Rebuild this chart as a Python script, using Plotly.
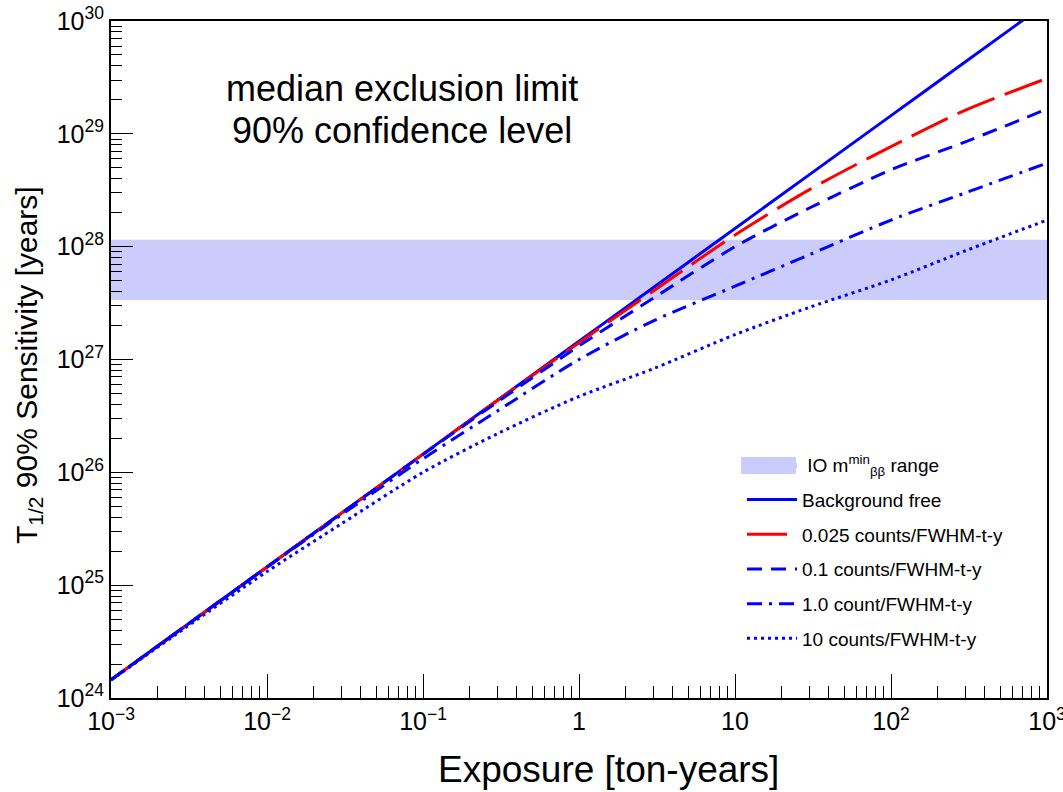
import plotly.graph_objects as go

# ---------------- data ----------------
exposure = [1e-3, 3e-3, 1e-2, 3e-2, 0.1, 0.3, 1, 3, 10, 30, 100, 300, 1000]

bkg_free = [1.45e24, 4.35e24, 1.45e25, 4.35e25, 1.45e26, 4.35e26, 1.45e27,
            4.35e27, 1.45e28, 4.35e28, 1.45e29, 4.35e29, 1.45e30]
bkg_0025 = [1.45e24, 4.35e24, 1.45e25, 4.35e25, 1.45e26, 4.33e26, 1.41e27,
            4.05e27, 1.27e28, 3.2e28, 7.7e28, 1.62e29, 3.1e29]
bkg_01 = [1.45e24, 4.35e24, 1.45e25, 4.34e25, 1.44e26, 4.2e26, 1.32e27,
          3.5e27, 1.0e28, 2.2e28, 4.8e28, 8.5e28, 1.66e29]
bkg_1 = [1.45e24, 4.34e24, 1.44e25, 4.2e25, 1.32e26, 3.5e26, 1.0e27,
         2.2e27, 4.46e27, 8.5e27, 1.72e28, 3.0e28, 5.5e28]
bkg_10 = [1.44e24, 4.2e24, 1.32e25, 3.5e25, 1.0e26, 2.2e26, 4.7e26,
          8.3e26, 1.66e27, 2.9e27, 5.07e27, 9.2e27, 1.72e28]

band_x = [1e-3, 1e3, 1e3, 1e-3]
band_lo = 3.37e27
band_hi = 1.15e28

x_tickvals = [1e-3, 1e-2, 1e-1, 1.0, 10.0, 100.0, 1000.0]
x_ticktext = ["10<sup>\u22123</sup>", "10<sup>\u22122</sup>", "10<sup>\u22121</sup>",
              "1", "10", "10<sup>2</sup>", "10<sup>3</sup>"]
y_tickvals = [1e24, 1e25, 1e26, 1e27, 1e28, 1e29, 1e30]
y_ticktext = ["10<sup>24</sup>", "10<sup>25</sup>", "10<sup>26</sup>", "10<sup>27</sup>",
              "10<sup>28</sup>", "10<sup>29</sup>", "10<sup>30</sup>"]

names = ["Background free", "0.025 counts/FWHM-t-y", "0.1 counts/FWHM-t-y",
         "1.0 count/FWHM-t-y", "10 counts/FWHM-t-y"]
band_name = " IO m<sup>min</sup><sub>\u03b2\u03b2</sub> range"

# ---------------- figure ----------------
FONT = "Liberation Sans, Arial, Helvetica, sans-serif"
BLUE = "#0000ff"
RED = "#ff0000"
BAND = "rgb(204,204,252)"

fig = go.Figure()

fig.add_trace(go.Scatter(
    x=band_x, y=[band_lo, band_lo, band_hi, band_hi],
    fill="toself", fillcolor=BAND, mode="lines",
    line=dict(width=0, color=BAND), name=band_name,
    legendgroup="g0", hoverinfo="skip"))

series = [
    (bkg_free, BLUE, "solid", names[0]),
    (bkg_0025, RED, "40px,11px", names[1]),
    (bkg_01, BLUE, "15px,9px", names[2]),
    (bkg_1, BLUE, "15px,7px,3px,7px", names[3]),
    (bkg_10, BLUE, "3px,4px", names[4]),
]
for i, (vals, col, dash, nm) in enumerate(series):
    fig.add_trace(go.Scatter(
        x=exposure, y=vals, mode="lines", name=nm, legendgroup=f"g{i+1}",
        line=dict(color=col, width=3, dash=dash, shape="spline", smoothing=0.8)))

minor_x = [float(m) * 10.0 ** e for e in range(-3, 3) for m in range(2, 10)]
minor_y = [float(m) * 10.0 ** e for e in range(24, 30) for m in range(2, 10)]

L, R, T, B = 111, 16, 21, 94
W, H = 1063, 792
PW, PH = W - L - R, H - T - B


def px(xp):
    return (xp - L) / PW


def py(yp):
    return (H - B - yp) / PH


fig.update_layout(
    width=W, height=H,
    margin=dict(l=L, r=R, t=T, b=B, autoexpand=False),
    paper_bgcolor="white", plot_bgcolor="white",
    font=dict(family=FONT, color="black"),
    showlegend=True,
    legend=dict(x=px(742), y=py(446), xanchor="left", yanchor="top",
                bgcolor="rgba(0,0,0,0)", font=dict(size=19, color="black"),
                itemwidth=50, tracegroupgap=7, traceorder="grouped"),
    xaxis=dict(type="log", range=[-3.000001, 3.000001], showgrid=False, zeroline=False,
               automargin=False, ticklabeloverflow="allow",
               showline=True, linecolor="black", linewidth=2, mirror=True,
               ticks="inside", ticklen=24, tickwidth=1, tickcolor="black",
               tickmode="array", tickvals=x_tickvals, ticktext=x_ticktext,
               tickfont=dict(size=25, family=FONT),
               minor=dict(ticks="inside", ticklen=12, tickwidth=1, tickcolor="black",
                          tickmode="array", tickvals=minor_x, showgrid=False)),
    yaxis=dict(type="log", range=[24, 30.000001], showgrid=False, zeroline=False,
               automargin=False, ticklabeloverflow="allow",
               showline=True, linecolor="black", linewidth=2, mirror=True,
               ticks="inside", ticklen=22, tickwidth=1, tickcolor="black",
               tickmode="array", tickvals=y_tickvals, ticktext=y_ticktext,
               tickfont=dict(size=25, family=FONT),
               minor=dict(ticks="inside", ticklen=11, tickwidth=1, tickcolor="black",
                          tickmode="array", tickvals=minor_y, showgrid=False)),
    shapes=[dict(type="rect", xref="paper", yref="paper",
                 x0=px(741), x1=px(796), y0=py(474), y1=py(457),
                 fillcolor=BAND, line=dict(width=0), layer="above")],
    annotations=[
        dict(text="median exclusion limit", xref="paper", yref="paper",
             x=px(402), y=py(88), xanchor="center", yanchor="middle", showarrow=False,
             font=dict(size=36, family=FONT, color="black")),
        dict(text="90% confidence level", xref="paper", yref="paper",
             x=px(402), y=py(130), xanchor="center", yanchor="middle", showarrow=False,
             font=dict(size=36, family=FONT, color="black")),
        dict(text="Exposure [ton-years]", xref="paper", yref="paper",
             x=px(608), y=py(769), xanchor="center", yanchor="middle", showarrow=False,
             font=dict(size=37, family=FONT, color="black")),
        dict(text="T<sub>1/2</sub> 90% Sensitivity [years]", xref="paper", yref="paper",
             x=px(28), y=py(365), xanchor="center", yanchor="middle", showarrow=False,
             textangle=-90, font=dict(size=30, family=FONT, color="black")),
    ],
)

fig.write_html("out.html")
